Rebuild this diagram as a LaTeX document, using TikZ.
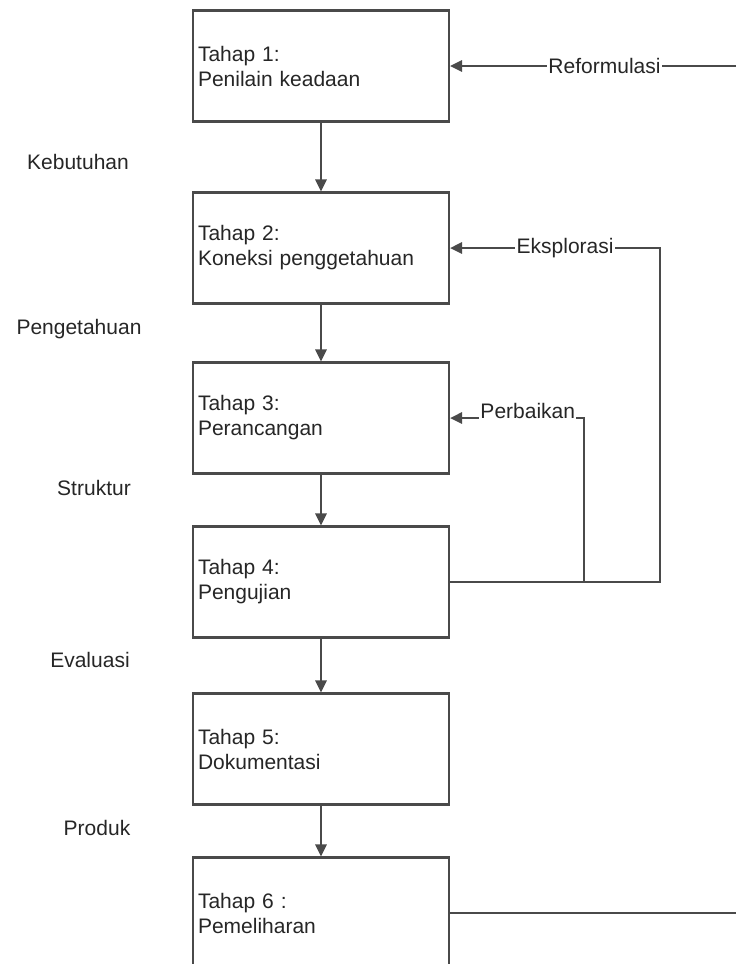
\documentclass[tikz,border=0pt]{standalone}
\usepackage{fontspec}
\setmainfont{Liberation Sans}
\usetikzlibrary{arrows.meta}
\definecolor{grisgaris}{HTML}{4A4A4A}
\definecolor{gristeks}{HTML}{262626}
\tikzset{
  tahap/.style={rectangle, draw=grisgaris, line width=1.7pt, fill=white,
                text=gristeks, align=left, text width=184.5pt, inner xsep=3.75pt,
                minimum width=192pt, minimum height=83.25pt,
                font=\fontsize{15.75}{18.75}\selectfont},
  alur/.style={-{Triangle[length=9pt, width=8.5pt]}, line width=1.5pt, draw=grisgaris},
  garis/.style={line width=1.5pt, draw=grisgaris},
  ket/.style={text=gristeks, inner sep=0pt, font=\fontsize{15.75}{18.75}\selectfont},
  umpan/.style={fill=white, text=gristeks, inner xsep=1pt, inner ysep=2pt,
                font=\fontsize{15.75}{18.75}\selectfont},
}
\begin{document}
\begin{tikzpicture}[x=0.75pt, y=-0.75pt]
  \useasboundingbox (0,0) rectangle (736,964);
  \foreach \i/\y/\isi in {1/66/{Tahap 1:\\Penilain keadaan}, 2/248/{Tahap 2:\\Koneksi penggetahuan},
                          3/418/{Tahap 3:\\Perancangan}, 4/582/{Tahap 4:\\Pengujian},
                          5/749/{Tahap 5:\\Dokumentasi}, 6/913/{Tahap 6 :\\Pemeliharan}}{
    \node[tahap] (t\i) at (321,\y) {\isi};
  }
  \foreach \i/\nama/\x/\y in {1/Kebutuhan/78/169, 2/Pengetahuan/79/334, 3/Struktur/94/495,
                              4/Evaluasi/90/667, 5/Produk/97/835}{
    \node[ket, anchor=base] (k\i) at (\x,\y) {\nama};
  }
  \foreach \i/\j in {1/2,2/3,3/4,4/5,5/6}{
    \draw[alur] (t\i) -- (t\j);
  }
  % umpan balik
  \coordinate (kanan1) at (736,66);
  \coordinate (kanan6) at (736,913);
  \coordinate (eks) at (660,582);
  \coordinate (per) at (584,582);
  \draw[alur] (kanan1) -- node[umpan, pos=0.46] (reformulasi) {Reformulasi} (t1.east);
  \draw[garis] (t6.east) -- (kanan6);
  \draw[alur] (t4.east) -- (eks) |- node[umpan, pos=0.726] (eksplorasi) {Eksplorasi} (t2.east);
  \draw[alur] (per) |- node[umpan, anchor=base, pos=0.71] (perbaikan) {Perbaikan} (t3.east);
\end{tikzpicture}
\end{document}
